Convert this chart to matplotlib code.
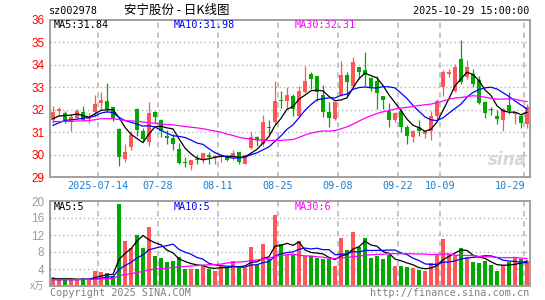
import numpy as np
import pandas as pd
import matplotlib
matplotlib.use('Agg')
import matplotlib.pyplot as plt

# daily candles, 2025-07-02 .. 2025-10-29 (80 trading days)
opens = [31.55, 31.96, 31.84, 31.44, 31.64, 31.89, 31.60, 31.89, 32.29, 32.41,
         32.11, 31.15, 29.79, 30.33, 32.04, 31.07, 30.56, 31.89, 31.52, 30.81,
         30.73, 30.26, 29.67, 29.55, 29.80, 29.74, 30.00, 29.84, 29.89, 29.92,
         29.89, 30.10, 29.60, 30.30, 30.80, 30.45, 31.25, 31.44, 32.44, 32.41,
         32.63, 31.74, 32.78, 33.59, 33.52, 32.67, 31.89, 31.60, 32.67, 33.56,
         33.07, 33.89, 33.78, 33.41, 33.30, 32.59, 31.96, 31.52, 31.96, 31.22,
         30.78, 31.22, 30.93, 31.07, 31.70, 33.03, 33.60, 32.82, 34.26, 33.47,
         33.59, 33.33, 32.36, 32.02, 31.73, 31.56, 32.23, 31.81, 31.70, 31.37]
closes = [31.92, 32.03, 31.50, 31.67, 31.93, 31.55, 31.68, 32.26, 32.45, 32.04,
          31.60, 29.89, 30.11, 30.88, 31.10, 30.68, 31.84, 31.67, 31.04, 30.72,
          30.45, 29.62, 29.62, 29.74, 29.77, 30.07, 29.89, 29.92, 29.96, 29.77,
          30.07, 29.67, 30.00, 30.80, 30.63, 31.44, 31.19, 32.41, 32.39, 32.67,
          32.04, 32.85, 33.30, 33.37, 32.78, 31.89, 31.62, 32.33, 33.56, 33.25,
          34.11, 33.67, 33.56, 33.00, 32.73, 32.44, 31.56, 31.84, 31.25, 30.81,
          31.07, 31.04, 31.03, 31.70, 32.41, 33.67, 33.67, 33.89, 33.22, 33.92,
          33.15, 32.29, 31.84, 31.99, 31.60, 32.04, 31.96, 31.88, 31.40, 32.14]
highs = [32.18, 32.14, 31.96, 31.79, 32.05, 32.16, 31.85, 32.66, 32.78, 33.18,
         32.13, 31.20, 30.48, 31.07, 32.06, 31.20, 32.33, 31.96, 31.60, 31.10,
         30.93, 30.50, 29.88, 29.76, 29.96, 30.08, 30.10, 29.96, 30.04, 29.96,
         30.21, 30.12, 30.01, 31.00, 30.85, 31.77, 31.52, 33.30, 32.85, 33.00,
         32.70, 33.07, 33.96, 33.67, 33.52, 33.12, 32.33, 32.35, 34.16, 33.67,
         34.36, 33.90, 34.56, 33.45, 33.52, 32.60, 32.30, 31.89, 32.04, 31.30,
         31.10, 31.52, 31.07, 31.96, 32.48, 33.77, 33.81, 34.04, 35.10, 34.21,
         33.81, 33.52, 32.40, 32.10, 31.99, 32.07, 32.78, 31.90, 31.81, 32.26]
lows = [31.39, 31.74, 31.40, 31.07, 31.60, 31.48, 31.40, 31.74, 32.04, 31.89,
        31.50, 29.47, 29.67, 30.22, 30.85, 30.56, 30.36, 31.40, 30.78, 30.45,
        30.19, 29.57, 29.44, 29.30, 29.56, 29.62, 29.56, 29.56, 29.67, 29.70,
        29.74, 29.60, 29.56, 30.26, 30.40, 30.40, 30.93, 31.37, 32.08, 32.04,
        31.74, 31.67, 32.73, 32.93, 32.41, 31.67, 31.25, 31.52, 32.63, 32.63,
        33.00, 33.37, 33.07, 32.82, 32.04, 32.04, 31.25, 31.47, 31.00, 30.45,
        30.56, 30.85, 30.75, 30.67, 31.52, 32.63, 33.44, 32.78, 33.15, 33.37,
        33.00, 32.26, 31.62, 31.78, 31.37, 31.07, 31.81, 31.37, 31.19, 31.19]
# volume, x10k lots
volumes = [2.1, 1.5, 1.5, 1.5, 1.5, 1.8, 1.7, 3.45, 3.2, 3.0,
           2.3, 19.2, 10.5, 8.9, 12.0, 8.9, 14.0, 7.0, 6.6, 5.65,
           5.8, 6.75, 4.1, 4.1, 4.1, 5.0, 4.1, 3.45, 4.9, 4.2,
           6.0, 4.2, 4.2, 9.2, 4.9, 9.8, 6.4, 16.6, 10.0, 7.4,
           7.4, 10.5, 7.1, 7.1, 6.6, 6.4, 6.4, 4.6, 11.3, 8.4,
           12.7, 9.2, 11.3, 6.6, 7.0, 6.3, 7.2, 4.6, 4.6, 4.4,
           4.2, 3.7, 3.45, 5.3, 7.4, 11.1, 7.6, 7.4, 8.9, 6.8,
           5.6, 5.4, 5.8, 4.9, 3.45, 4.9, 5.6, 6.6, 6.4, 6.0]

# MA values at the start of the window (they depend on days before it)
ma5_head = [31.60, 31.72, 31.74, 31.76]
ma10_head = [31.30, 31.42, 31.52, 31.55, 31.58, 31.62, 31.65, 31.72, 31.85]
ma30_head = [31.47, 31.47, 31.48, 31.48, 31.50, 31.50, 31.52, 31.55, 31.60, 31.60,
             31.60, 31.56, 31.52, 31.50, 31.48, 31.45, 31.42, 31.40, 31.36, 31.34,
             31.32, 31.29, 31.25, 31.22, 31.19, 31.15, 31.10, 31.05, 31.00]
vma5_head = [1.7, 1.7, 1.7, 1.7]
vma10_head = [1.5, 1.5, 1.5, 1.5, 1.5, 1.55, 1.6, 1.7, 1.8]
vma30_head = [1.5, 1.5, 1.5, 1.5, 1.5, 1.55, 1.55, 1.6, 1.65, 1.7,
              1.8, 2.4, 2.7, 2.9, 3.2, 3.4, 3.8, 3.95, 4.1, 4.2,
              4.35, 4.5, 4.6, 4.7, 4.8, 4.9, 5.0, 5.05, 5.15]

tick_idx = [8, 18, 28, 38, 48, 58, 65, 79]
tick_labels = ['2025-07-14', '07-28', '08-11', '08-25', '09-08', '09-22', '10-09', '10-29']


def moving(vals, n, head):
    s = pd.Series(vals).rolling(n).mean().values
    s[:n - 1] = head
    return s


o = np.array(opens)
c = np.array(closes)
h = np.array(highs)
l = np.array(lows)
v = np.array(volumes)
x = np.arange(len(o)) + 0.5

RED = '#ff5757'
GREEN = '#00a800'
colors = [RED if cc >= oo else GREEN for oo, cc in zip(o, c)]
mono = 'DejaVu Sans Mono'
GRID = '#b4b4b4'

fig = plt.figure(figsize=(5.45, 3.0), dpi=100)
fig.patch.set_facecolor('white')
ax = fig.add_axes([50 / 545, 1 - 177 / 300, 480 / 545, 157 / 300])
axv = fig.add_axes([50 / 545, 1 - 286 / 300, 480 / 545, 85 / 300])

for a in (ax, axv):
    a.set_xlim(0, 80)
    for s in a.spines.values():
        s.set_color('#a0a0a0')
        s.set_linewidth(1.4)
    for t in tick_idx:
        a.axvline(t, color=GRID, lw=1.1, ls=(0, (3.5, 3)), zorder=0)
    a.set_xticks([])

# candles
ax.set_ylim(29, 36)
for y in range(30, 36):
    ax.axhline(y, color=GRID, lw=1, ls=(0, (1, 2)), zorder=0)
body = np.maximum(np.abs(c - o), 0.04)
ax.vlines(x, l, h, colors=colors, lw=0.9, zorder=2)
ax.bar(x, body, bottom=np.minimum(o, c), width=0.78, color=colors, lw=0,
       antialiased=False, zorder=3)
ax.plot(x, moving(c, 5, ma5_head), color='black', lw=0.9, zorder=4)
ax.plot(x, moving(c, 10, ma10_head), color='#0000ff', lw=0.9, zorder=4)
ax.plot(x, moving(c, 30, ma30_head), color='#ff00ff', lw=0.9, zorder=4)
ax.set_yticks(range(29, 37))
ax.set_yticklabels([str(t) for t in range(29, 37)], family='Liberation Sans', fontsize=8.5)
ax.tick_params(axis='y', colors='red', length=0, pad=4)
for t, lab in zip(tick_idx, tick_labels):
    pos = t if t != 79 else 76.7
    ax.text(pos, -0.058, lab, transform=ax.get_xaxis_transform(), ha='center', va='center',
            color='#1a7fd0', family=mono, fontsize=7.3)
ax.text(79.5, 29.35, 'sina', color='#d6d6d6', fontsize=12, fontweight='bold', style='italic',
        ha='right', va='bottom', zorder=1)

# volume
axv.set_ylim(0, 20)
for y in (4, 8, 12, 16):
    axv.axhline(y, color=GRID, lw=1, ls=(0, (1, 2)), zorder=0)
axv.bar(x, v, width=0.78, color=colors, lw=0, antialiased=False, zorder=2)
axv.plot(x, moving(v, 5, vma5_head), color='black', lw=0.9, zorder=4)
axv.plot(x, moving(v, 10, vma10_head), color='#0000ff', lw=0.9, zorder=4)
axv.plot(x, moving(v, 30, vma30_head), color='#ff00ff', lw=0.9, zorder=4)
axv.set_yticks([4, 8, 12, 16, 20])
axv.set_yticklabels(['4', '8', '12', '16', '20'], family='Liberation Sans', fontsize=8.5)
axv.tick_params(axis='y', colors='#9a9a9a', length=0, pad=4)
axv.text(-0.012, 0, 'x万', transform=axv.transAxes, ha='right', va='center', color='#9a9a9a',
         fontsize=7, family=['Noto Sans CJK SC', 'DejaVu Sans'])


def ftext(px, py, s, **kw):
    fig.text(px / 545, 1 - py / 300, s, **kw)


ftext(49, 11, 'sz002978', family=mono, fontsize=7.3, va='center', ha='left')
ftext(177, 10, '安宁股份 - 日K线图', family=['Noto Sans CJK SC', 'DejaVu Sans'], fontsize=9,
      va='center', ha='center')
ftext(529, 11, '2025-10-29 15:00:00', family=mono, fontsize=7.3, va='center', ha='right')
ftext(54, 25, 'MA5:31.84', family=mono, fontsize=7.3, va='center', color='black')
ftext(174, 25, 'MA10:31.98', family=mono, fontsize=7.3, va='center', color='#0000ff')
ftext(295, 25, 'MA30:32.31', family=mono, fontsize=7.3, va='center', color='#ff00ff')
ftext(54, 207, 'MA5:5', family=mono, fontsize=7.3, va='center', color='black')
ftext(174, 207, 'MA10:5', family=mono, fontsize=7.3, va='center', color='#0000ff')
ftext(295, 207, 'MA30:6', family=mono, fontsize=7.3, va='center', color='#ff00ff')
ftext(50, 293, 'Copyright 2025 SINA.COM', family=mono, fontsize=7.3, va='center', color='#808080')
ftext(529, 293, 'http://finance.sina.com.cn', family=mono, fontsize=7.3, va='center', ha='right',
      color='#808080')

fig.savefig('out.png', dpi=100)
